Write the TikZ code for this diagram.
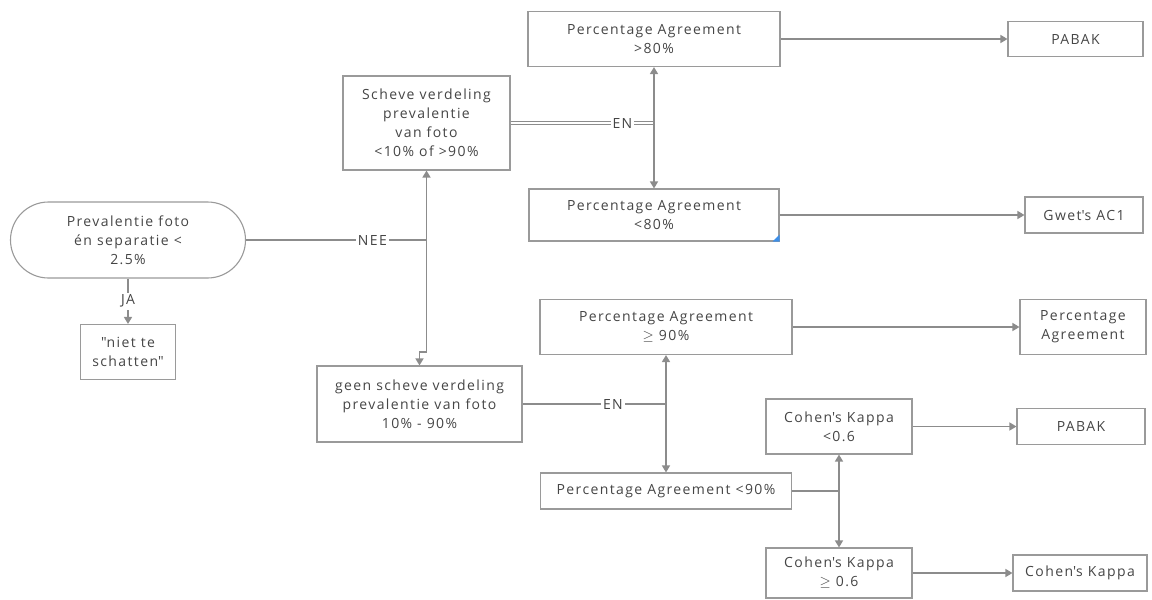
\documentclass[tikz,border=0pt]{standalone}
\usepackage{fontspec}
\setmainfont{Open Sans}[LetterSpace=10]
\usetikzlibrary{arrows.meta}
\definecolor{ln}{HTML}{8C8C8C}
\definecolor{bd}{HTML}{9A9A9A}
\definecolor{tx}{HTML}{454545}
\definecolor{handle}{HTML}{3D8FE8}
\begin{document}
\begin{tikzpicture}[x=1pt,y=-1pt,
  box/.style={draw=bd,line width=1.1pt,align=center,text=tx,
    font=\fontsize{14}{19}\selectfont,inner sep=0pt},
  conn/.style={draw=ln,line width=1.5pt},
  arr/.style={conn,-{Triangle[length=7pt,width=8pt]}},
  lab/.style={fill=white,text=tx,font=\fontsize{14}{19}\selectfont,inner sep=2pt}]
\useasboundingbox (0,0) rectangle (1152,600);
% nodes
\node[box,minimum width=235pt,minimum height=76pt,rounded corners=38pt] (st) at (128,240) {Prevalentie foto\\én separatie <\\2.5\%};
\node[box,minimum width=95pt,minimum height=55pt] (niet) at (128,352) {\textquotedbl niet te\\schatten\textquotedbl};
\node[box,minimum width=167pt,minimum height=94pt] (sch) at (426.5,123) {Scheve verdeling\\prevalentie\\van foto\\<10\% of >90\%};
\node[box,minimum width=205pt,minimum height=76pt] (geen) at (419.5,404) {geen scheve verdeling\\prevalentie van foto\\10\% - 90\%};
\node[box,minimum width=252pt,minimum height=55pt] (pa80) at (654,39) {Percentage Agreement\\>80\%};
\node[box,minimum width=250pt,minimum height=52pt] (pa80l) at (654,215) {Percentage Agreement\\<80\%};
\node[box,minimum width=135pt,minimum height=35pt] (pabak1) at (1075.5,39) {PABAK};
\node[box,minimum width=118pt,minimum height=36pt] (gwet) at (1084,215) {Gwet\textquotesingle s AC1};
\node[box,minimum width=252pt,minimum height=55pt] (pa90) at (666,327) {Percentage Agreement\\$\geq$ 90\%};
\node[box,minimum width=126pt,minimum height=55pt] (pagree) at (1083,327) {Percentage\\Agreement};
\node[box,minimum width=251pt,minimum height=36pt] (pa90l) at (666,491) {Percentage Agreement <90\%};
\node[box,minimum width=146pt,minimum height=55pt] (ck1) at (839,426.5) {Cohen\textquotesingle s Kappa\\<0.6};
\node[box,minimum width=128pt,minimum height=36pt] (pabak2) at (1081,426.5) {PABAK};
\node[box,minimum width=146pt,minimum height=50pt] (ck2) at (839,573) {Cohen\textquotesingle s Kappa\\$\geq$ 0.6};
\node[box,minimum width=134pt,minimum height=36pt] (ck3) at (1080,573) {Cohen\textquotesingle s Kappa};
% handle
\fill[handle] (pa80l.south east) -- ++(-7,0) -- ++(7,-7) -- cycle;
% junctions
\coordinate (j1) at (426.5,240);
\coordinate (j1b) at (426.5,352);
\coordinate (j2) at (654,123);
\coordinate (j3) at (666,404);
\coordinate (j4) at (839,491);
% connectors
\draw[conn] (st.east) -- node[lab,pos=0.7]{NEE} (j1);
\draw[arr] (j1) -- (sch.south);
\draw[arr] (j1) -- (j1b) -| (geen.north);
\draw[arr] (st.south) -- node[lab]{JA} (niet.north);
\draw[conn,double=white,double distance=1.2pt,line width=1pt] (sch.east) -- node[lab,pos=0.78]{EN} (j2);
\draw[arr] (j2) -- (pa80.south);
\draw[arr] (j2) -- (pa80l.north);
\draw[conn,line width=2.5pt] (j2) -- ++(0,17);
\draw[arr] (pa80.east) -- (pabak1.west);
\draw[arr] (pa80l.east) -- (gwet.west);
\draw[conn] (geen.east) -- node[lab,pos=0.63]{EN} (j3);
\draw[arr] (j3) -- (pa90.south);
\draw[arr] (j3) -- (pa90l.north);
\draw[arr] (pa90.east) -- (pagree.west);
\draw[conn] (pa90l.east) -- (j4);
\draw[arr] (j4) -- (ck1.south);
\draw[arr] (j4) -- (ck2.north);
\draw[arr] (ck1.east) -- (pabak2.west);
\draw[arr] (ck2.east) -- (ck3.west);
\end{tikzpicture}
\end{document}
